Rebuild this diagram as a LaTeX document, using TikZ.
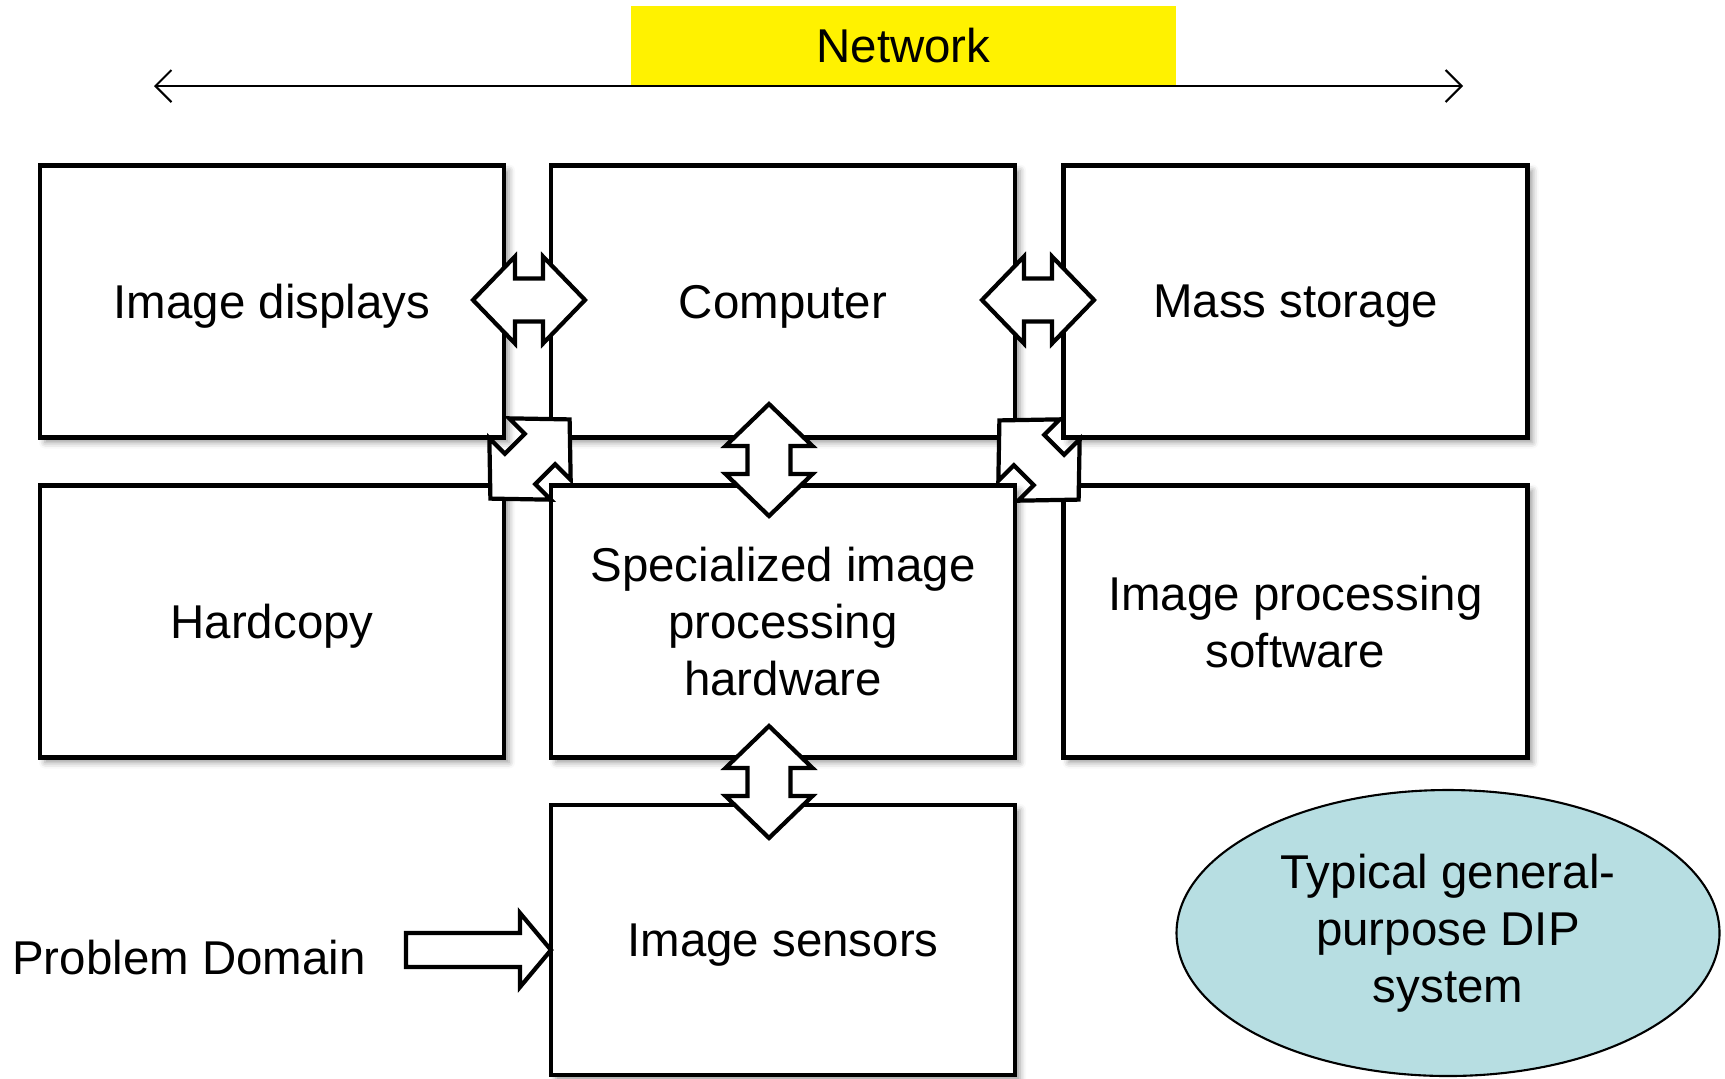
\documentclass[tikz,border=0pt]{standalone}
\usepackage{fontspec}
\setmainfont{Liberation Sans}
\usetikzlibrary{shapes.geometric,arrows.meta,shadows.blur}
\definecolor{dipblue}{RGB}{183,222,226}
\tikzset{
  bx/.style={rectangle,draw=black,line width=1.2pt,fill=white,minimum width=46.4mm,minimum height=27.2mm,inner sep=0pt,outer sep=0pt,align=center,text depth=0pt,
    blur shadow={shadow xshift=.5mm,shadow yshift=-.5mm,shadow blur radius=.6mm}},
  blockarrow/.style={draw=black,line width=1.2pt,fill=white,line join=miter},
  txt/.style={align=center,inner sep=0pt}
}
% double block arrow, length along x, centre at (#1,#2), turned by #3
\newcommand{\dblarrow}[3]{%
  \draw[blockarrow,shift={(#1,#2)},rotate=#3]
    (-56,0) -- (-14,43.5) -- (-14,21.5) -- (14,21.5) -- (14,43.5) -- (56,0)
    -- (14,-43.5) -- (14,-21.5) -- (-14,-21.5) -- (-14,-43.5) -- cycle;}

\begin{document}
\begin{tikzpicture}[x=0.1mm,y=-0.1mm,font=\fontsize{13.5}{16.2}\selectfont]
	\useasboundingbox (0,0) rectangle (1725,1078);

	% network bar
	\node[fill=yellow,minimum width=54.5mm,minimum height=7.9mm,inner sep=0pt] (netbox) at (903.5,45.5) {Network};
	\coordinate (netL) at (154,86);
	\coordinate (netR) at (1463,86);
	\draw[line width=.6pt,{Straight Barb[length=1.6mm,width=3.2mm]}-{Straight Barb[length=1.6mm,width=3.2mm]}] (netL) -- (netR);

	% boxes
	\node[bx] (disp) at (272,301.5) {Image displays};
	\node[bx] (comp) at (783,301.5) {Computer};
	\node[bx] (mass) at (1295.5,301.5) {Mass storage};
	\node[bx] (hard) at (272,621.5) {Hardcopy};
	\node[bx] (hw) at (783,621.5) {Specialized image\\processing\\hardware};
	\node[bx] (sw) at (1295.5,621.5) {Image processing\\software};
	\node[bx,minimum height=27mm] (sens) at (783,940) {Image sensors};

	% links
	\dblarrow{529}{300}{0}
	\dblarrow{1038}{300}{0}
	\dblarrow{530}{459}{45}
	\dblarrow{1039}{460}{-45}
	\dblarrow{769}{460}{90}
	\dblarrow{769}{782}{90}

	% input
	\node[txt] (prob) at (189,958) {Problem Domain};
	\draw[blockarrow] (406,933) -- (520,933) -- (520,913) -- (551,950) -- (520,987) -- (520,967) -- (406,967) -- cycle;

	\node[ellipse,draw=black,line width=.6pt,fill=dipblue,minimum width=54.3mm,minimum height=28.6mm,align=center,inner sep=0pt] (dip) at (1448,933)
		{Typical general-\\purpose DIP\\system};
\end{tikzpicture}
\end{document}
